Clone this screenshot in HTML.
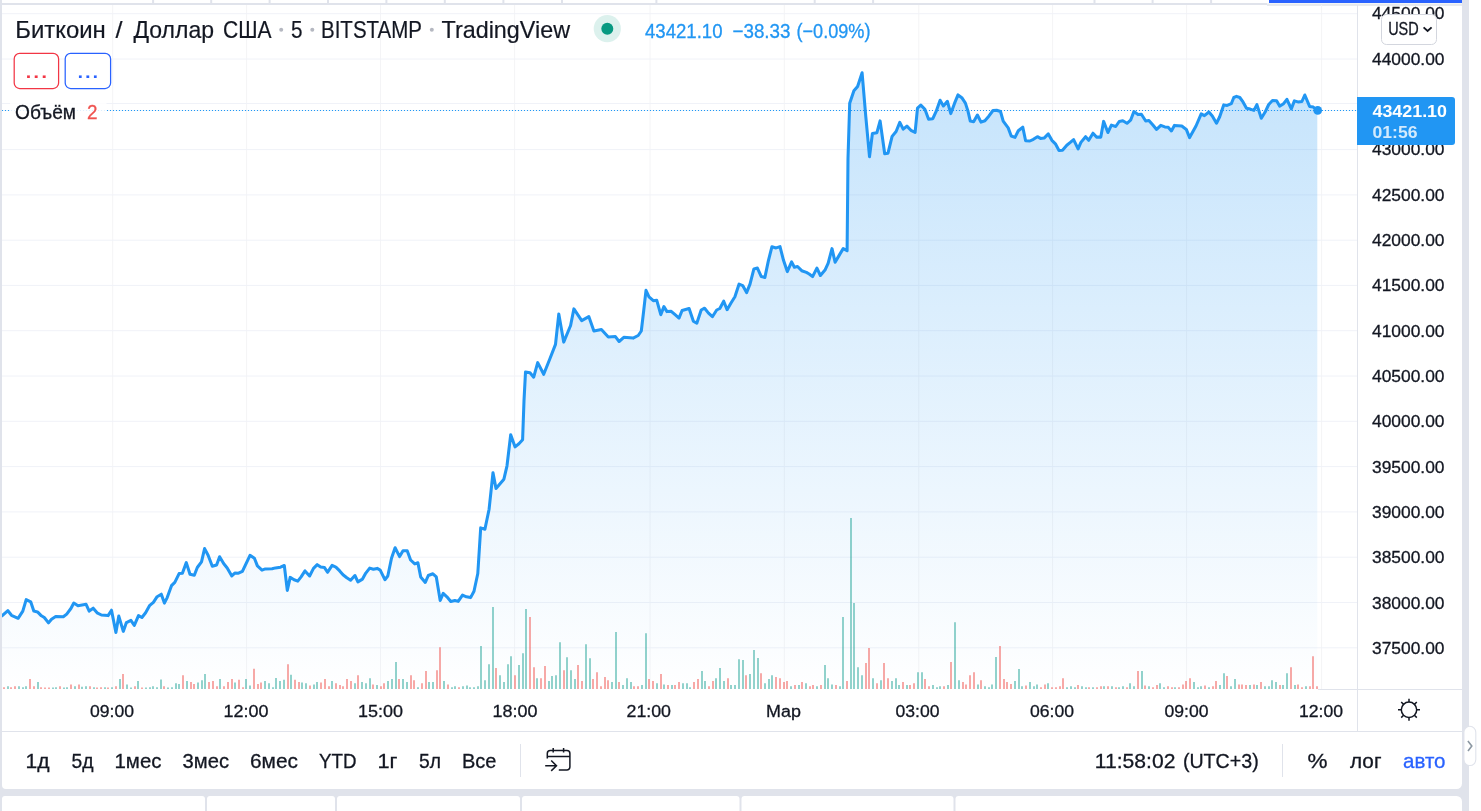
<!DOCTYPE html>
<html lang="ru"><head><meta charset="utf-8"><title>BTCUSD</title>
<style>html,body{margin:0;padding:0;background:#fff;overflow:hidden}body{width:1481px;height:811px;position:relative;font-family:"Liberation Sans", sans-serif}svg{position:absolute;left:0;top:0;display:block}text{font-family:"Liberation Sans", sans-serif}</style>
</head><body>
<svg width="1481" height="811" viewBox="0 0 1481 811" style="will-change:transform">
<defs><linearGradient id="ag" x1="0" y1="5" x2="0" y2="689" gradientUnits="userSpaceOnUse"><stop offset="0" stop-color="#2196f3" stop-opacity="0.29"/><stop offset="1" stop-color="#2196f3" stop-opacity="0.002"/></linearGradient>
<clipPath id="pane"><rect x="2" y="5" width="1355" height="684"/></clipPath><clipPath id="axclip"><rect x="1358" y="5.9" width="104" height="684"/></clipPath></defs>
<rect x="0" y="0" width="1481" height="811" fill="#fff"/>
<rect x="0" y="0" width="1469" height="811" fill="#e0e3eb"/>
<rect x="2" y="0" width="1460" height="3" fill="#fff"/>
<rect x="152.1" y="0" width="2" height="3" fill="#e0e3eb"/>
<rect x="210.2" y="0" width="2" height="3" fill="#e0e3eb"/>
<rect x="268.6" y="0" width="2" height="3" fill="#e0e3eb"/>
<rect x="327" y="0" width="2" height="3" fill="#e0e3eb"/>
<rect x="385.4" y="0" width="2" height="3" fill="#e0e3eb"/>
<rect x="443.8" y="0" width="2" height="3" fill="#e0e3eb"/>
<rect x="502.4" y="0" width="2" height="3" fill="#e0e3eb"/>
<rect x="561" y="0" width="2" height="3" fill="#e0e3eb"/>
<rect x="655.4" y="0" width="2" height="3" fill="#e0e3eb"/>
<rect x="813.7" y="0" width="2" height="3" fill="#e0e3eb"/>
<rect x="872.1" y="0" width="2" height="3" fill="#e0e3eb"/>
<rect x="1093.5" y="0" width="2" height="3" fill="#e0e3eb"/>
<rect x="1151.6" y="0" width="2" height="3" fill="#e0e3eb"/>
<rect x="1210.1" y="0" width="2" height="3" fill="#e0e3eb"/>
<rect x="1269" y="0" width="193" height="3" fill="#2962ff"/>
<path d="M2 5H1462V783.5a5.5 5.5 0 0 1-5.5 5.5H6a4 4 0 0 1-4-4Z" fill="#fff"/>
<rect x="1267" y="3" width="195" height="2.2" fill="#fff"/>
<rect x="1267" y="3.5" width="195" height="2.4" fill="#e6e9ee"/>
<path d="M2 811V799a3 3 0 0 1 3-3H202a3 3 0 0 1 3 3V811Z" fill="#fff"/>
<path d="M207 811V799a3 3 0 0 1 3-3H332a3 3 0 0 1 3 3V811Z" fill="#fff"/>
<path d="M337 811V799a3 3 0 0 1 3-3H517a3 3 0 0 1 3 3V811Z" fill="#fff"/>
<path d="M522 811V799a3 3 0 0 1 3-3H736.5a3 3 0 0 1 3 3V811Z" fill="#fff"/>
<path d="M741.5 811V799a3 3 0 0 1 3-3H950.5a3 3 0 0 1 3 3V811Z" fill="#fff"/>
<path d="M955.5 811V799a3 3 0 0 1 3-3H1456.5a5.5 5.5 0 0 1 5.5 5.5V811Z" fill="#fff"/>
<g stroke-width="1"><g stroke="#f4f4f6">
<line x1="112.7" y1="5" x2="112.7" y2="689"/>
<line x1="246.6" y1="5" x2="246.6" y2="689"/>
<line x1="380.5" y1="5" x2="380.5" y2="689"/>
<line x1="514.6" y1="5" x2="514.6" y2="689"/>
<line x1="650.0" y1="5" x2="650.0" y2="689"/>
<line x1="784.3" y1="5" x2="784.3" y2="689"/>
<line x1="918.8" y1="5" x2="918.8" y2="689"/>
<line x1="1052.6" y1="5" x2="1052.6" y2="689"/>
<line x1="1186.6" y1="5" x2="1186.6" y2="689"/>
<line x1="1321.6" y1="5" x2="1321.6" y2="689"/>
</g><g stroke="#f0f2f8">
<line x1="2" y1="13.7" x2="1357" y2="13.7"/>
<line x1="2" y1="59.0" x2="1357" y2="59.0"/>
<line x1="2" y1="103.45" x2="1357" y2="103.45"/>
<line x1="2" y1="149.6" x2="1357" y2="149.6"/>
<line x1="2" y1="194.9" x2="1357" y2="194.9"/>
<line x1="2" y1="240.2" x2="1357" y2="240.2"/>
<line x1="2" y1="285.4" x2="1357" y2="285.4"/>
<line x1="2" y1="330.7" x2="1357" y2="330.7"/>
<line x1="2" y1="376.0" x2="1357" y2="376.0"/>
<line x1="2" y1="421.3" x2="1357" y2="421.3"/>
<line x1="2" y1="466.6" x2="1357" y2="466.6"/>
<line x1="2" y1="511.9" x2="1357" y2="511.9"/>
<line x1="2" y1="557.2" x2="1357" y2="557.2"/>
<line x1="2" y1="602.5" x2="1357" y2="602.5"/>
<line x1="2" y1="647.8" x2="1357" y2="647.8"/>
</g></g>
<g clip-path="url(#pane)">
<path d="M2.0 615.8 L7.9 610.7 L11.5 615.3 L18.1 618.3 L22.8 611.1 L26.2 599.6 L30.7 601.8 L33.8 611.1 L37.5 611.9 L41.4 615.8 L44.3 617.5 L48.5 622.9 L51.5 619.2 L55.7 616.5 L63.3 616.8 L66.7 614.1 L70.9 608.5 L73.8 603.0 L78.0 605.7 L86.1 604.3 L89.2 611.1 L93.2 608.2 L97.1 612.8 L101.4 615.0 L108.1 615.6 L111.5 610.2 L115.9 632.5 L118.8 616.1 L123.3 631.4 L126.4 622.6 L130.9 620.4 L134.3 625.4 L138.5 615.6 L141.9 617.5 L145.6 612.8 L149.5 605.7 L153.4 602.3 L157.1 596.7 L161.3 594.2 L164.4 603.1 L167.2 597.6 L171.5 585.7 L174.8 582.4 L179.1 573.6 L182.4 573.2 L186.3 562.6 L190.0 574.3 L194.3 575.3 L197.3 567.5 L201.5 561.8 L204.6 548.6 L208.1 555.3 L212.3 566.3 L216.6 565.0 L219.6 556.7 L223.8 563.8 L227.2 568.0 L231.8 575.9 L234.8 573.1 L238.5 573.2 L242.4 571.4 L250.0 555.3 L254.4 558.3 L257.4 565.9 L262.0 570.1 L265.3 568.9 L272.1 568.8 L275.5 567.9 L280.5 567.2 L284.3 565.5 L287.3 590.4 L290.2 577.4 L294.1 579.7 L297.8 581.1 L301.1 576.9 L305.0 570.9 L309.6 576.0 L313.5 568.4 L317.2 564.7 L320.7 567.1 L324.5 567.6 L327.5 572.3 L332.1 565.4 L335.9 567.1 L339.7 570.9 L343.0 574.7 L346.8 577.7 L350.6 580.2 L354.9 575.5 L357.9 581.9 L362.5 579.1 L365.8 573.1 L369.7 568.1 L373.4 569.3 L377.2 568.4 L380.2 570.1 L384.9 579.7 L387.8 576.0 L391.5 558.3 L395.1 547.8 L399.6 556.6 L403.0 550.7 L407.2 550.7 L410.6 560.0 L414.8 563.9 L417.9 562.8 L420.7 576.9 L425.3 582.4 L428.3 575.5 L432.9 573.8 L436.3 576.9 L440.2 600.5 L443.2 593.4 L446.9 596.8 L450.8 601.4 L454.9 600.5 L458.2 601.4 L462.5 595.1 L466.4 596.8 L470.6 597.6 L474.0 591.2 L477.8 573.5 L480.7 527.9 L484.9 529.2 L489.1 509.2 L493.0 472.7 L496.0 488.5 L503.9 479.2 L507.0 465.8 L510.7 434.7 L515.1 446.9 L518.9 443.8 L522.6 439.8 L524.0 400.9 L525.5 372.1 L530.0 372.8 L533.7 377.2 L537.7 362.6 L543.7 374.3 L549.9 358.8 L555.5 344.4 L558.8 314.0 L563.7 342.1 L570.6 325.5 L573.9 308.9 L581.7 320.6 L588.8 316.6 L593.9 331.0 L601.4 329.5 L608.3 337.0 L615.4 336.6 L619.1 341.5 L623.8 337.3 L633.1 338.1 L638.2 335.5 L641.3 331.0 L643.7 310.8 L646.0 290.3 L649.0 296.8 L653.3 300.7 L656.7 300.2 L660.8 314.7 L663.9 306.6 L667.0 311.6 L671.2 311.3 L675.1 314.7 L679.0 318.1 L682.1 310.5 L689.1 308.5 L693.4 321.2 L696.8 323.2 L701.2 310.0 L704.6 308.2 L708.5 313.1 L712.4 316.7 L716.7 310.0 L719.8 308.5 L723.7 301.2 L727.1 309.7 L731.0 303.0 L734.9 296.8 L739.1 284.1 L742.7 285.6 L746.6 292.6 L750.0 284.1 L753.9 268.9 L757.4 268.1 L761.3 276.6 L764.9 277.4 L768.3 261.1 L771.9 246.8 L776.1 247.9 L780.0 246.6 L783.5 260.3 L787.3 271.6 L791.6 261.9 L794.4 267.3 L797.5 266.5 L801.7 270.7 L806.4 272.4 L809.2 274.0 L812.6 276.6 L816.9 268.1 L820.4 275.5 L825.0 270.1 L828.1 263.4 L832.0 248.6 L835.1 262.2 L839.0 255.6 L843.2 248.6 L847.1 250.7 L848.0 158.6 L849.7 103.2 L853.9 90.8 L857.6 86.4 L862.1 72.8 L865.8 116.7 L869.5 156.7 L872.4 133.5 L876.9 132.7 L880.1 120.9 L884.7 153.7 L888.0 153.2 L892.1 136.4 L896.1 131.5 L899.8 122.4 L903.2 129.1 L906.9 126.1 L910.9 130.3 L915.1 132.3 L917.5 108.1 L920.8 105.1 L924.9 109.3 L928.6 119.2 L932.8 118.7 L936.5 110.6 L940.1 100.3 L943.4 106.0 L947.4 101.3 L950.8 113.6 L954.5 103.4 L958.0 94.9 L961.8 97.7 L965.4 103.1 L967.9 110.9 L970.3 121.1 L973.6 121.8 L977.4 115.0 L981.0 122.1 L984.9 120.7 L988.8 116.2 L993.0 110.5 L996.6 110.2 L1000.5 111.5 L1003.2 121.1 L1008.2 127.9 L1011.2 136.0 L1015.0 137.4 L1018.3 130.8 L1022.8 127.2 L1025.6 140.7 L1029.9 141.0 L1033.4 139.3 L1037.4 136.7 L1040.5 138.4 L1044.1 138.1 L1048.3 133.9 L1051.9 140.3 L1055.4 143.8 L1059.0 150.5 L1062.5 150.2 L1066.8 145.2 L1070.3 142.4 L1073.6 139.6 L1078.1 148.8 L1080.9 142.4 L1085.6 136.7 L1088.7 140.3 L1093.0 133.2 L1096.5 137.1 L1100.8 137.1 L1103.6 121.4 L1107.9 132.5 L1111.4 125.1 L1115.7 126.5 L1119.2 121.5 L1122.8 120.8 L1127.0 123.3 L1130.6 120.2 L1133.9 111.6 L1138.0 114.6 L1141.4 114.3 L1145.7 121.0 L1148.9 120.5 L1152.9 125.0 L1156.6 129.4 L1160.8 125.4 L1164.8 126.9 L1168.2 127.2 L1171.4 130.9 L1174.4 125.4 L1181.8 126.1 L1186.3 129.4 L1189.6 137.6 L1196.0 126.0 L1201.2 113.8 L1204.4 115.6 L1208.9 112.0 L1212.3 116.0 L1216.5 123.2 L1219.7 116.8 L1223.7 104.9 L1227.2 105.4 L1231.3 103.7 L1233.8 97.5 L1236.5 96.4 L1239.8 97.5 L1243.0 101.9 L1246.5 108.3 L1250.2 109.1 L1253.9 110.4 L1256.9 104.6 L1261.3 118.3 L1265.0 112.3 L1268.7 104.5 L1272.5 100.5 L1276.6 100.7 L1279.6 106.1 L1283.6 103.7 L1286.9 99.3 L1291.3 108.9 L1294.4 100.9 L1298.0 101.9 L1301.9 101.5 L1304.8 95.0 L1309.6 106.4 L1313.3 107.1 L1317.3 110.4 L1317.3 689 L2.0 689Z" fill="url(#ag)"/>
<path d="M7 689v-2.8h2v2.8zM18 689v-2.8h2v2.8zM22 689v-1.8h2v1.8zM25 689v-2.8h2v2.8zM37 689v-6.9h2v6.9zM52 689v-1.6h2v1.6zM55 689v-1.8h2v1.8zM63 689v-1.6h2v1.6zM66 689v-1.8h2v1.8zM74 689v-2.8h2v2.8zM81 689v-2.3h2v2.3zM85 689v-2.8h2v2.8zM93 689v-1.8h2v1.8zM104 689v-1.8h2v1.8zM111 689v-1.8h2v1.8zM119 689v-9.9h2v9.9zM126 689v-4.6h2v4.6zM130 689v-1.6h2v1.6zM137 689v-8.0h2v8.0zM145 689v-1.6h2v1.6zM149 689v-1.8h2v1.8zM152 689v-2.8h2v2.8zM156 689v-1.8h2v1.8zM160 689v-9.6h2v9.6zM167 689v-1.6h2v1.6zM171 689v-1.8h2v1.8zM175 689v-5.7h2v5.7zM178 689v-5.1h2v5.1zM186 689v-8.0h2v8.0zM197 689v-6.4h2v6.4zM201 689v-8.7h2v8.7zM204 689v-14.9h2v14.9zM219 689v-9.9h2v9.9zM234 689v-6.4h2v6.4zM245 689v-9.9h2v9.9zM249 689v-3.4h2v3.4zM264 689v-8.0h2v8.0zM268 689v-5.7h2v5.7zM272 689v-1.8h2v1.8zM275 689v-11.0h2v11.0zM279 689v-8.0h2v8.0zM283 689v-9.2h2v9.2zM290 689v-14.2h2v14.2zM301 689v-6.4h2v6.4zM305 689v-5.7h2v5.7zM313 689v-4.6h2v4.6zM316 689v-6.9h2v6.9zM331 689v-8.0h2v8.0zM354 689v-5.7h2v5.7zM361 689v-6.9h2v6.9zM365 689v-5.7h2v5.7zM369 689v-10.8h2v10.8zM376 689v-3.9h2v3.9zM387 689v-8.0h2v8.0zM391 689v-9.9h2v9.9zM395 689v-27.1h2v27.1zM402 689v-9.9h2v9.9zM406 689v-6.9h2v6.9zM417 689v-1.8h2v1.8zM428 689v-6.9h2v6.9zM432 689v-6.9h2v6.9zM443 689v-8.0h2v8.0zM451 689v-1.8h2v1.8zM454 689v-2.8h2v2.8zM462 689v-2.8h2v2.8zM466 689v-3.4h2v3.4zM469 689v-1.8h2v1.8zM473 689v-1.8h2v1.8zM477 689v-2.8h2v2.8zM480 689v-42.9h2v42.9zM484 689v-8.7h2v8.7zM488 689v-24.8h2v24.8zM492 689v-82.0h2v82.0zM499 689v-13.8h2v13.8zM503 689v-6.9h2v6.9zM507 689v-24.8h2v24.8zM510 689v-32.8h2v32.8zM518 689v-23.9h2v23.9zM522 689v-35.8h2v35.8zM525 689v-79.9h2v79.9zM536 689v-10.8h2v10.8zM548 689v-8.0h2v8.0zM551 689v-12.9h2v12.9zM555 689v-13.8h2v13.8zM559 689v-46.8h2v46.8zM566 689v-31.7h2v31.7zM570 689v-18.8h2v18.8zM574 689v-9.9h2v9.9zM585 689v-44.8h2v44.8zM589 689v-30.8h2v30.8zM611 689v-6.9h2v6.9zM615 689v-56.9h2v56.9zM622 689v-3.9h2v3.9zM626 689v-10.8h2v10.8zM630 689v-6.9h2v6.9zM641 689v-3.9h2v3.9zM645 689v-55.8h2v55.8zM656 689v-5.7h2v5.7zM663 689v-4.6h2v4.6zM671 689v-3.9h2v3.9zM682 689v-5.7h2v5.7zM686 689v-5.7h2v5.7zM689 689v-1.8h2v1.8zM701 689v-17.9h2v17.9zM704 689v-8.0h2v8.0zM715 689v-10.8h2v10.8zM719 689v-20.9h2v20.9zM723 689v-8.0h2v8.0zM730 689v-3.9h2v3.9zM734 689v-3.9h2v3.9zM738 689v-29.8h2v29.8zM742 689v-28.9h2v28.9zM749 689v-14.9h2v14.9zM753 689v-39.0h2v39.0zM757 689v-31.0h2v31.0zM764 689v-5.7h2v5.7zM768 689v-9.9h2v9.9zM771 689v-13.8h2v13.8zM790 689v-2.8h2v2.8zM798 689v-3.9h2v3.9zM805 689v-5.7h2v5.7zM816 689v-2.8h2v2.8zM824 689v-23.9h2v23.9zM827 689v-10.8h2v10.8zM831 689v-4.6h2v4.6zM839 689v-2.8h2v2.8zM842 689v-71.9h2v71.9zM850 689v-171.0h2v171.0zM853 689v-85.9h2v85.9zM857 689v-21.8h2v21.8zM861 689v-13.8h2v13.8zM872 689v-10.8h2v10.8zM880 689v-8.7h2v8.7zM891 689v-8.0h2v8.0zM895 689v-10.8h2v10.8zM898 689v-3.9h2v3.9zM906 689v-3.9h2v3.9zM917 689v-16.8h2v16.8zM921 689v-16.8h2v16.8zM932 689v-3.9h2v3.9zM936 689v-1.8h2v1.8zM939 689v-2.8h2v2.8zM947 689v-3.9h2v3.9zM954 689v-66.8h2v66.8zM958 689v-8.7h2v8.7zM977 689v-4.6h2v4.6zM984 689v-2.8h2v2.8zM988 689v-1.8h2v1.8zM991 689v-4.6h2v4.6zM995 689v-31.9h2v31.9zM1014 689v-8.0h2v8.0zM1018 689v-20.0h2v20.0zM1021 689v-2.8h2v2.8zM1029 689v-6.9h2v6.9zM1033 689v-2.8h2v2.8zM1036 689v-4.6h2v4.6zM1047 689v-5.7h2v5.7zM1066 689v-1.8h2v1.8zM1070 689v-2.8h2v2.8zM1074 689v-1.8h2v1.8zM1081 689v-2.8h2v2.8zM1085 689v-1.8h2v1.8zM1092 689v-1.8h2v1.8zM1103 689v-2.8h2v2.8zM1111 689v-2.8h2v2.8zM1118 689v-1.8h2v1.8zM1122 689v-2.8h2v2.8zM1129 689v-5.7h2v5.7zM1133 689v-2.8h2v2.8zM1141 689v-17.9h2v17.9zM1148 689v-2.8h2v2.8zM1159 689v-5.7h2v5.7zM1163 689v-1.8h2v1.8zM1174 689v-1.8h2v1.8zM1193 689v-6.9h2v6.9zM1197 689v-1.8h2v1.8zM1200 689v-2.8h2v2.8zM1208 689v-1.8h2v1.8zM1219 689v-3.9h2v3.9zM1223 689v-15.8h2v15.8zM1230 689v-2.8h2v2.8zM1234 689v-9.9h2v9.9zM1249 689v-3.9h2v3.9zM1256 689v-3.9h2v3.9zM1264 689v-2.8h2v2.8zM1268 689v-2.8h2v2.8zM1271 689v-8.7h2v8.7zM1275 689v-6.9h2v6.9zM1282 689v-3.9h2v3.9zM1286 689v-15.8h2v15.8zM1294 689v-3.9h2v3.9zM1305 689v-2.8h2v2.8z" fill="#26a69a" fill-opacity="0.5"/>
<path d="M3 689v-1.8h2v1.8zM10 689v-1.8h2v1.8zM14 689v-2.8h2v2.8zM29 689v-9.9h2v9.9zM33 689v-2.8h2v2.8zM40 689v-1.8h2v1.8zM44 689v-1.6h2v1.6zM48 689v-1.6h2v1.6zM59 689v-2.8h2v2.8zM70 689v-4.6h2v4.6zM78 689v-4.6h2v4.6zM89 689v-2.8h2v2.8zM96 689v-1.6h2v1.6zM100 689v-1.8h2v1.8zM107 689v-1.6h2v1.6zM115 689v-2.8h2v2.8zM122 689v-14.9h2v14.9zM134 689v-2.8h2v2.8zM141 689v-1.6h2v1.6zM163 689v-2.8h2v2.8zM182 689v-13.8h2v13.8zM190 689v-6.9h2v6.9zM193 689v-5.1h2v5.1zM208 689v-6.9h2v6.9zM212 689v-8.0h2v8.0zM216 689v-2.8h2v2.8zM223 689v-2.8h2v2.8zM227 689v-6.9h2v6.9zM231 689v-9.9h2v9.9zM238 689v-9.2h2v9.2zM242 689v-1.8h2v1.8zM253 689v-20.2h2v20.2zM257 689v-5.1h2v5.1zM260 689v-6.4h2v6.4zM287 689v-24.8h2v24.8zM294 689v-9.2h2v9.2zM298 689v-6.9h2v6.9zM309 689v-3.4h2v3.4zM320 689v-6.4h2v6.4zM324 689v-9.9h2v9.9zM328 689v-2.8h2v2.8zM335 689v-5.7h2v5.7zM339 689v-3.9h2v3.9zM342 689v-2.8h2v2.8zM346 689v-9.9h2v9.9zM350 689v-8.0h2v8.0zM357 689v-13.8h2v13.8zM372 689v-4.6h2v4.6zM380 689v-2.8h2v2.8zM383 689v-5.7h2v5.7zM398 689v-9.9h2v9.9zM410 689v-13.8h2v13.8zM413 689v-8.7h2v8.7zM421 689v-5.7h2v5.7zM425 689v-17.9h2v17.9zM436 689v-18.8h2v18.8zM439 689v-41.8h2v41.8zM447 689v-4.6h2v4.6zM458 689v-1.8h2v1.8zM495 689v-21.1h2v21.1zM514 689v-13.8h2v13.8zM529 689v-71.9h2v71.9zM533 689v-21.8h2v21.8zM540 689v-10.8h2v10.8zM544 689v-23.0h2v23.0zM563 689v-18.8h2v18.8zM577 689v-23.9h2v23.9zM581 689v-8.0h2v8.0zM592 689v-9.9h2v9.9zM596 689v-16.8h2v16.8zM600 689v-2.8h2v2.8zM604 689v-11.9h2v11.9zM607 689v-8.7h2v8.7zM618 689v-6.9h2v6.9zM633 689v-2.8h2v2.8zM637 689v-2.8h2v2.8zM648 689v-9.9h2v9.9zM652 689v-8.0h2v8.0zM660 689v-14.9h2v14.9zM667 689v-3.9h2v3.9zM674 689v-3.9h2v3.9zM678 689v-6.9h2v6.9zM693 689v-6.9h2v6.9zM697 689v-9.9h2v9.9zM708 689v-2.8h2v2.8zM712 689v-8.0h2v8.0zM727 689v-10.8h2v10.8zM745 689v-13.8h2v13.8zM760 689v-15.8h2v15.8zM775 689v-11.9h2v11.9zM779 689v-10.8h2v10.8zM783 689v-6.9h2v6.9zM786 689v-8.0h2v8.0zM794 689v-3.9h2v3.9zM801 689v-6.9h2v6.9zM809 689v-2.8h2v2.8zM812 689v-3.9h2v3.9zM820 689v-3.9h2v3.9zM835 689v-3.9h2v3.9zM846 689v-8.0h2v8.0zM865 689v-25.9h2v25.9zM868 689v-40.9h2v40.9zM876 689v-5.7h2v5.7zM883 689v-25.9h2v25.9zM887 689v-10.8h2v10.8zM902 689v-6.9h2v6.9zM909 689v-3.9h2v3.9zM913 689v-5.7h2v5.7zM924 689v-9.9h2v9.9zM928 689v-2.8h2v2.8zM943 689v-2.8h2v2.8zM950 689v-26.9h2v26.9zM962 689v-6.9h2v6.9zM965 689v-4.6h2v4.6zM969 689v-13.8h2v13.8zM973 689v-16.8h2v16.8zM980 689v-8.7h2v8.7zM999 689v-42.9h2v42.9zM1003 689v-9.9h2v9.9zM1006 689v-6.9h2v6.9zM1010 689v-5.1h2v5.1zM1025 689v-3.4h2v3.4zM1040 689v-1.8h2v1.8zM1044 689v-4.6h2v4.6zM1051 689v-1.8h2v1.8zM1055 689v-1.8h2v1.8zM1059 689v-2.8h2v2.8zM1062 689v-10.8h2v10.8zM1077 689v-3.9h2v3.9zM1088 689v-1.8h2v1.8zM1096 689v-1.8h2v1.8zM1100 689v-2.8h2v2.8zM1107 689v-2.8h2v2.8zM1115 689v-1.8h2v1.8zM1126 689v-1.8h2v1.8zM1137 689v-17.9h2v17.9zM1144 689v-3.4h2v3.4zM1152 689v-1.8h2v1.8zM1156 689v-3.9h2v3.9zM1167 689v-2.8h2v2.8zM1171 689v-1.8h2v1.8zM1178 689v-1.8h2v1.8zM1182 689v-4.6h2v4.6zM1185 689v-8.0h2v8.0zM1189 689v-10.8h2v10.8zM1204 689v-3.4h2v3.4zM1212 689v-2.8h2v2.8zM1215 689v-8.0h2v8.0zM1226 689v-12.9h2v12.9zM1238 689v-4.6h2v4.6zM1241 689v-4.6h2v4.6zM1245 689v-3.9h2v3.9zM1253 689v-4.6h2v4.6zM1260 689v-6.9h2v6.9zM1279 689v-3.9h2v3.9zM1290 689v-21.8h2v21.8zM1297 689v-4.6h2v4.6zM1301 689v-1.8h2v1.8zM1309 689v-2.8h2v2.8zM1312 689v-32.8h2v32.8zM1316 689v-2.8h2v2.8z" fill="#ef5350" fill-opacity="0.5"/>
<path d="M2.0 615.8 L7.9 610.7 L11.5 615.3 L18.1 618.3 L22.8 611.1 L26.2 599.6 L30.7 601.8 L33.8 611.1 L37.5 611.9 L41.4 615.8 L44.3 617.5 L48.5 622.9 L51.5 619.2 L55.7 616.5 L63.3 616.8 L66.7 614.1 L70.9 608.5 L73.8 603.0 L78.0 605.7 L86.1 604.3 L89.2 611.1 L93.2 608.2 L97.1 612.8 L101.4 615.0 L108.1 615.6 L111.5 610.2 L115.9 632.5 L118.8 616.1 L123.3 631.4 L126.4 622.6 L130.9 620.4 L134.3 625.4 L138.5 615.6 L141.9 617.5 L145.6 612.8 L149.5 605.7 L153.4 602.3 L157.1 596.7 L161.3 594.2 L164.4 603.1 L167.2 597.6 L171.5 585.7 L174.8 582.4 L179.1 573.6 L182.4 573.2 L186.3 562.6 L190.0 574.3 L194.3 575.3 L197.3 567.5 L201.5 561.8 L204.6 548.6 L208.1 555.3 L212.3 566.3 L216.6 565.0 L219.6 556.7 L223.8 563.8 L227.2 568.0 L231.8 575.9 L234.8 573.1 L238.5 573.2 L242.4 571.4 L250.0 555.3 L254.4 558.3 L257.4 565.9 L262.0 570.1 L265.3 568.9 L272.1 568.8 L275.5 567.9 L280.5 567.2 L284.3 565.5 L287.3 590.4 L290.2 577.4 L294.1 579.7 L297.8 581.1 L301.1 576.9 L305.0 570.9 L309.6 576.0 L313.5 568.4 L317.2 564.7 L320.7 567.1 L324.5 567.6 L327.5 572.3 L332.1 565.4 L335.9 567.1 L339.7 570.9 L343.0 574.7 L346.8 577.7 L350.6 580.2 L354.9 575.5 L357.9 581.9 L362.5 579.1 L365.8 573.1 L369.7 568.1 L373.4 569.3 L377.2 568.4 L380.2 570.1 L384.9 579.7 L387.8 576.0 L391.5 558.3 L395.1 547.8 L399.6 556.6 L403.0 550.7 L407.2 550.7 L410.6 560.0 L414.8 563.9 L417.9 562.8 L420.7 576.9 L425.3 582.4 L428.3 575.5 L432.9 573.8 L436.3 576.9 L440.2 600.5 L443.2 593.4 L446.9 596.8 L450.8 601.4 L454.9 600.5 L458.2 601.4 L462.5 595.1 L466.4 596.8 L470.6 597.6 L474.0 591.2 L477.8 573.5 L480.7 527.9 L484.9 529.2 L489.1 509.2 L493.0 472.7 L496.0 488.5 L503.9 479.2 L507.0 465.8 L510.7 434.7 L515.1 446.9 L518.9 443.8 L522.6 439.8 L524.0 400.9 L525.5 372.1 L530.0 372.8 L533.7 377.2 L537.7 362.6 L543.7 374.3 L549.9 358.8 L555.5 344.4 L558.8 314.0 L563.7 342.1 L570.6 325.5 L573.9 308.9 L581.7 320.6 L588.8 316.6 L593.9 331.0 L601.4 329.5 L608.3 337.0 L615.4 336.6 L619.1 341.5 L623.8 337.3 L633.1 338.1 L638.2 335.5 L641.3 331.0 L643.7 310.8 L646.0 290.3 L649.0 296.8 L653.3 300.7 L656.7 300.2 L660.8 314.7 L663.9 306.6 L667.0 311.6 L671.2 311.3 L675.1 314.7 L679.0 318.1 L682.1 310.5 L689.1 308.5 L693.4 321.2 L696.8 323.2 L701.2 310.0 L704.6 308.2 L708.5 313.1 L712.4 316.7 L716.7 310.0 L719.8 308.5 L723.7 301.2 L727.1 309.7 L731.0 303.0 L734.9 296.8 L739.1 284.1 L742.7 285.6 L746.6 292.6 L750.0 284.1 L753.9 268.9 L757.4 268.1 L761.3 276.6 L764.9 277.4 L768.3 261.1 L771.9 246.8 L776.1 247.9 L780.0 246.6 L783.5 260.3 L787.3 271.6 L791.6 261.9 L794.4 267.3 L797.5 266.5 L801.7 270.7 L806.4 272.4 L809.2 274.0 L812.6 276.6 L816.9 268.1 L820.4 275.5 L825.0 270.1 L828.1 263.4 L832.0 248.6 L835.1 262.2 L839.0 255.6 L843.2 248.6 L847.1 250.7 L848.0 158.6 L849.7 103.2 L853.9 90.8 L857.6 86.4 L862.1 72.8 L865.8 116.7 L869.5 156.7 L872.4 133.5 L876.9 132.7 L880.1 120.9 L884.7 153.7 L888.0 153.2 L892.1 136.4 L896.1 131.5 L899.8 122.4 L903.2 129.1 L906.9 126.1 L910.9 130.3 L915.1 132.3 L917.5 108.1 L920.8 105.1 L924.9 109.3 L928.6 119.2 L932.8 118.7 L936.5 110.6 L940.1 100.3 L943.4 106.0 L947.4 101.3 L950.8 113.6 L954.5 103.4 L958.0 94.9 L961.8 97.7 L965.4 103.1 L967.9 110.9 L970.3 121.1 L973.6 121.8 L977.4 115.0 L981.0 122.1 L984.9 120.7 L988.8 116.2 L993.0 110.5 L996.6 110.2 L1000.5 111.5 L1003.2 121.1 L1008.2 127.9 L1011.2 136.0 L1015.0 137.4 L1018.3 130.8 L1022.8 127.2 L1025.6 140.7 L1029.9 141.0 L1033.4 139.3 L1037.4 136.7 L1040.5 138.4 L1044.1 138.1 L1048.3 133.9 L1051.9 140.3 L1055.4 143.8 L1059.0 150.5 L1062.5 150.2 L1066.8 145.2 L1070.3 142.4 L1073.6 139.6 L1078.1 148.8 L1080.9 142.4 L1085.6 136.7 L1088.7 140.3 L1093.0 133.2 L1096.5 137.1 L1100.8 137.1 L1103.6 121.4 L1107.9 132.5 L1111.4 125.1 L1115.7 126.5 L1119.2 121.5 L1122.8 120.8 L1127.0 123.3 L1130.6 120.2 L1133.9 111.6 L1138.0 114.6 L1141.4 114.3 L1145.7 121.0 L1148.9 120.5 L1152.9 125.0 L1156.6 129.4 L1160.8 125.4 L1164.8 126.9 L1168.2 127.2 L1171.4 130.9 L1174.4 125.4 L1181.8 126.1 L1186.3 129.4 L1189.6 137.6 L1196.0 126.0 L1201.2 113.8 L1204.4 115.6 L1208.9 112.0 L1212.3 116.0 L1216.5 123.2 L1219.7 116.8 L1223.7 104.9 L1227.2 105.4 L1231.3 103.7 L1233.8 97.5 L1236.5 96.4 L1239.8 97.5 L1243.0 101.9 L1246.5 108.3 L1250.2 109.1 L1253.9 110.4 L1256.9 104.6 L1261.3 118.3 L1265.0 112.3 L1268.7 104.5 L1272.5 100.5 L1276.6 100.7 L1279.6 106.1 L1283.6 103.7 L1286.9 99.3 L1291.3 108.9 L1294.4 100.9 L1298.0 101.9 L1301.9 101.5 L1304.8 95.0 L1309.6 106.4 L1313.3 107.1 L1317.3 110.4" fill="none" stroke="#2196f3" stroke-width="3.05" stroke-linejoin="round" stroke-linecap="round"/>
</g>
<line x1="2" y1="110.5" x2="1357" y2="110.5" stroke="#2196f3" stroke-width="1" stroke-dasharray="1.2 1.8" stroke-dashoffset="0.1"/>
<circle cx="1317.7" cy="110.4" r="4.35" fill="#2196f3"/>
<g stroke="#e0e3eb" stroke-width="1" shape-rendering="crispEdges">
<line x1="1357.5" y1="5" x2="1357.5" y2="731"/>
<line x1="1318" y1="689.5" x2="1462" y2="689.5"/>
<line x1="2" y1="731.5" x2="1462" y2="731.5"/>
<line x1="520.5" y1="744" x2="520.5" y2="777"/>
<line x1="1282.5" y1="744" x2="1282.5" y2="777"/>
</g>
<text id="p0" x="1372.0" y="18.6" font-size="17.3" fill="#131722" stroke="#131722" stroke-width="0.3" clip-path="url(#axclip)" textLength="72.5" lengthAdjust="spacingAndGlyphs">44500.00</text>
<text id="p1" x="1372.0" y="64.5" font-size="17.3" fill="#131722" stroke="#131722" stroke-width="0.3" textLength="72.5" lengthAdjust="spacingAndGlyphs">44000.00</text>
<text id="p2" x="1372.0" y="109.8" font-size="17.3" fill="#131722" stroke="#131722" stroke-width="0.3" textLength="72.5" lengthAdjust="spacingAndGlyphs">43500.00</text>
<text id="p3" x="1372.0" y="155.2" font-size="17.3" fill="#131722" stroke="#131722" stroke-width="0.3" textLength="72.5" lengthAdjust="spacingAndGlyphs">43000.00</text>
<text id="p4" x="1372.0" y="200.5" font-size="17.3" fill="#131722" stroke="#131722" stroke-width="0.3" textLength="72.5" lengthAdjust="spacingAndGlyphs">42500.00</text>
<text id="p5" x="1372.0" y="245.9" font-size="17.3" fill="#131722" stroke="#131722" stroke-width="0.3" textLength="72.5" lengthAdjust="spacingAndGlyphs">42000.00</text>
<text id="p6" x="1372.0" y="291.2" font-size="17.3" fill="#131722" stroke="#131722" stroke-width="0.3" textLength="72.5" lengthAdjust="spacingAndGlyphs">41500.00</text>
<text id="p7" x="1372.0" y="336.6" font-size="17.3" fill="#131722" stroke="#131722" stroke-width="0.3" textLength="72.5" lengthAdjust="spacingAndGlyphs">41000.00</text>
<text id="p8" x="1372.0" y="381.9" font-size="17.3" fill="#131722" stroke="#131722" stroke-width="0.3" textLength="72.5" lengthAdjust="spacingAndGlyphs">40500.00</text>
<text id="p9" x="1372.0" y="427.2" font-size="17.3" fill="#131722" stroke="#131722" stroke-width="0.3" textLength="72.5" lengthAdjust="spacingAndGlyphs">40000.00</text>
<text id="p10" x="1372.0" y="472.6" font-size="17.3" fill="#131722" stroke="#131722" stroke-width="0.3" textLength="72.5" lengthAdjust="spacingAndGlyphs">39500.00</text>
<text id="p11" x="1372.0" y="518.0" font-size="17.3" fill="#131722" stroke="#131722" stroke-width="0.3" textLength="72.5" lengthAdjust="spacingAndGlyphs">39000.00</text>
<text id="p12" x="1372.0" y="563.3" font-size="17.3" fill="#131722" stroke="#131722" stroke-width="0.3" textLength="72.5" lengthAdjust="spacingAndGlyphs">38500.00</text>
<text id="p13" x="1372.0" y="608.7" font-size="17.3" fill="#131722" stroke="#131722" stroke-width="0.3" textLength="72.5" lengthAdjust="spacingAndGlyphs">38000.00</text>
<text id="p14" x="1372.0" y="654.0" font-size="17.3" fill="#131722" stroke="#131722" stroke-width="0.3" textLength="72.5" lengthAdjust="spacingAndGlyphs">37500.00</text>
<rect x="1381.5" y="14.5" width="55" height="30" rx="5" fill="#fff" stroke="#d3d6de"/>
<text id="usd" x="1388.2" y="34.7" font-size="17.6" fill="#131722" stroke="#131722" stroke-width="0.3" textLength="30.5" lengthAdjust="spacingAndGlyphs">USD</text>
<path d="M1423.6 27.4l4 3.5 4-3.5" fill="none" stroke="#131722" stroke-width="1.9"/>
<path d="M1357 97H1452a3 3 0 0 1 3 3V142a3 3 0 0 1-3 3H1357Z" fill="#2196f3"/>
<text id="plab" x="1372.5" y="117.2" font-size="17.3" fill="#fff" font-weight="bold" textLength="74.5" lengthAdjust="spacingAndGlyphs">43421.10</text>
<text id="ptime" x="1372.5" y="137.8" font-size="16.8" fill="#fff" font-weight="bold" fill-opacity="0.8" textLength="45.0" lengthAdjust="spacingAndGlyphs">01:56</text>
<text id="t1" x="15.2" y="38.0" font-size="23.8" fill="#131722" stroke="#131722" stroke-width="0.2" textLength="90.6" lengthAdjust="spacingAndGlyphs">Биткоин</text>
<text id="t2" x="115.5" y="38.0" font-size="23.8" fill="#131722" stroke="#131722" stroke-width="0.2" textLength="7.0" lengthAdjust="spacingAndGlyphs">/</text>
<text id="t3" x="133.5" y="38.0" font-size="23.8" fill="#131722" stroke="#131722" stroke-width="0.2" textLength="80.5" lengthAdjust="spacingAndGlyphs">Доллар</text>
<text id="t4" x="223.0" y="38.0" font-size="23.8" fill="#131722" stroke="#131722" stroke-width="0.2" textLength="48.5" lengthAdjust="spacingAndGlyphs">США</text>
<text id="t5" x="291.0" y="38.0" font-size="23.8" fill="#131722" stroke="#131722" stroke-width="0.2" textLength="11.5" lengthAdjust="spacingAndGlyphs">5</text>
<text id="t6" x="321.0" y="38.0" font-size="23.8" fill="#131722" stroke="#131722" stroke-width="0.2" textLength="101.0" lengthAdjust="spacingAndGlyphs">BITSTAMP</text>
<text id="t7" x="441.5" y="38.0" font-size="23.8" fill="#131722" stroke="#131722" stroke-width="0.2" textLength="128.5" lengthAdjust="spacingAndGlyphs">TradingView</text>
<circle cx="281.2" cy="29.8" r="2" fill="#b5b8c1"/>
<circle cx="312.3" cy="29.8" r="2" fill="#b5b8c1"/>
<circle cx="431.8" cy="29.8" r="2" fill="#b5b8c1"/>
<circle cx="607.3" cy="28.7" r="13.6" fill="#089981" fill-opacity="0.14"/>
<circle cx="607.3" cy="28.7" r="6" fill="#089981"/>
<text id="v1" x="645.0" y="37.7" font-size="20.3" fill="#2196f3" stroke="#2196f3" stroke-width="0.3" textLength="77.5" lengthAdjust="spacingAndGlyphs">43421.10</text>
<text id="v2" x="732.5" y="37.7" font-size="20.3" fill="#2196f3" stroke="#2196f3" stroke-width="0.3" textLength="58.0" lengthAdjust="spacingAndGlyphs">−38.33</text>
<text id="v3" x="796.5" y="37.7" font-size="20.3" fill="#2196f3" stroke="#2196f3" stroke-width="0.3" textLength="74.0" lengthAdjust="spacingAndGlyphs">(−0.09%)</text>
<rect x="14.2" y="53.4" width="44.4" height="35.1" rx="5.5" fill="#fff" stroke="#f23645" stroke-width="1.25"/>
<rect x="65.2" y="53.4" width="45.4" height="35.1" rx="5.5" fill="#fff" stroke="#2962ff" stroke-width="1.25"/>
<text id="b1" x="24.4" y="77.9" font-size="22" fill="#f23645" stroke="#f23645" stroke-width="0.1" textLength="23.7" lengthAdjust="spacingAndGlyphs">...</text>
<text id="b2" x="76.4" y="77.9" font-size="22" fill="#2962ff" stroke="#2962ff" stroke-width="0.1" textLength="22.7" lengthAdjust="spacingAndGlyphs">...</text>
<rect x="10" y="99" width="96.5" height="26" fill="#fff" fill-opacity="0.85"/>
<text id="l1" x="15.0" y="119.4" font-size="19.4" fill="#131722" stroke="#131722" stroke-width="0.3" textLength="61.0" lengthAdjust="spacingAndGlyphs">Объём</text>
<text id="l2" x="87.0" y="119.4" font-size="19.4" fill="#ef5350" stroke="#ef5350" stroke-width="0.3" textLength="10.5" lengthAdjust="spacingAndGlyphs">2</text>
<text id="x0" x="90.0" y="716.6" font-size="17.3" fill="#131722" stroke="#131722" stroke-width="0.3" textLength="44.0" lengthAdjust="spacingAndGlyphs">09:00</text>
<text id="x1" x="223.5" y="716.6" font-size="17.3" fill="#131722" stroke="#131722" stroke-width="0.3" textLength="45.0" lengthAdjust="spacingAndGlyphs">12:00</text>
<text id="x2" x="358.0" y="716.6" font-size="17.3" fill="#131722" stroke="#131722" stroke-width="0.3" textLength="45.0" lengthAdjust="spacingAndGlyphs">15:00</text>
<text id="x3" x="492.5" y="716.6" font-size="17.3" fill="#131722" stroke="#131722" stroke-width="0.3" textLength="45.0" lengthAdjust="spacingAndGlyphs">18:00</text>
<text id="x4" x="626.5" y="716.6" font-size="17.3" fill="#131722" stroke="#131722" stroke-width="0.3" textLength="44.5" lengthAdjust="spacingAndGlyphs">21:00</text>
<text id="x5" x="766.0" y="716.6" font-size="17.3" fill="#131722" stroke="#131722" stroke-width="0.3" textLength="35.0" lengthAdjust="spacingAndGlyphs">Мар</text>
<text id="x6" x="895.5" y="716.6" font-size="17.3" fill="#131722" stroke="#131722" stroke-width="0.3" textLength="44.0" lengthAdjust="spacingAndGlyphs">03:00</text>
<text id="x7" x="1030.0" y="716.6" font-size="17.3" fill="#131722" stroke="#131722" stroke-width="0.3" textLength="44.0" lengthAdjust="spacingAndGlyphs">06:00</text>
<text id="x8" x="1164.5" y="716.6" font-size="17.3" fill="#131722" stroke="#131722" stroke-width="0.3" textLength="44.0" lengthAdjust="spacingAndGlyphs">09:00</text>
<text id="x9" x="1299.0" y="716.6" font-size="17.3" fill="#131722" stroke="#131722" stroke-width="0.3" textLength="44.0" lengthAdjust="spacingAndGlyphs">12:00</text>
<text id="r1" x="25.5" y="768.0" font-size="20.6" fill="#131722" stroke="#131722" stroke-width="0.3" textLength="24.0" lengthAdjust="spacingAndGlyphs">1д</text>
<text id="r2" x="71.5" y="768.0" font-size="20.6" fill="#131722" stroke="#131722" stroke-width="0.3" textLength="22.0" lengthAdjust="spacingAndGlyphs">5д</text>
<text id="r3" x="114.5" y="768.0" font-size="20.6" fill="#131722" stroke="#131722" stroke-width="0.3" textLength="47.0" lengthAdjust="spacingAndGlyphs">1мес</text>
<text id="r4" x="182.5" y="768.0" font-size="20.6" fill="#131722" stroke="#131722" stroke-width="0.3" textLength="46.5" lengthAdjust="spacingAndGlyphs">3мес</text>
<text id="r5" x="250.0" y="768.0" font-size="20.6" fill="#131722" stroke="#131722" stroke-width="0.3" textLength="48.0" lengthAdjust="spacingAndGlyphs">6мес</text>
<text id="r6" x="319.0" y="768.0" font-size="20.6" fill="#131722" stroke="#131722" stroke-width="0.3" textLength="37.5" lengthAdjust="spacingAndGlyphs">YTD</text>
<text id="r7" x="377.5" y="768.0" font-size="20.6" fill="#131722" stroke="#131722" stroke-width="0.3" textLength="20.0" lengthAdjust="spacingAndGlyphs">1г</text>
<text id="r8" x="419.0" y="768.0" font-size="20.6" fill="#131722" stroke="#131722" stroke-width="0.3" textLength="22.0" lengthAdjust="spacingAndGlyphs">5л</text>
<text id="r9" x="462.0" y="768.0" font-size="20.6" fill="#131722" stroke="#131722" stroke-width="0.3" textLength="34.5" lengthAdjust="spacingAndGlyphs">Все</text>
<text id="clock" x="1094.8" y="767.7" font-size="21.0" fill="#131722" stroke="#131722" stroke-width="0.3" textLength="80.6" lengthAdjust="spacingAndGlyphs">11:58:02</text>
<text id="clock2" x="1182.9" y="767.7" font-size="21.0" fill="#131722" stroke="#131722" stroke-width="0.3" textLength="75.8" lengthAdjust="spacingAndGlyphs">(UTC+3)</text>
<text id="pct" x="1307.5" y="767.8" font-size="20.6" fill="#131722" stroke="#131722" stroke-width="0.3" textLength="20.0" lengthAdjust="spacingAndGlyphs">%</text>
<text id="log" x="1350.0" y="768.0" font-size="20.6" fill="#131722" stroke="#131722" stroke-width="0.3" textLength="31.5" lengthAdjust="spacingAndGlyphs">лог</text>
<text id="auto" x="1403.0" y="768.0" font-size="20.6" fill="#2962ff" stroke="#2962ff" stroke-width="0.3" textLength="42.5" lengthAdjust="spacingAndGlyphs">авто</text>
<g fill="none" stroke="#131722" stroke-width="1.5">
<path d="M547.3 758.4V753.4a3 3 0 0 1 3-3H566.9a3 3 0 0 1 3 3V767a3 3 0 0 1-3 3H558.8"/>
<path d="M547.3 756.5H569.9M553.2 748V752.6M563.6 748V752.6"/>
<path d="M545.2 765.7H556.2M551.2 760.5l5.3 5.2-5.3 5.2"/>
</g>
<g fill="none" stroke="#131722" stroke-width="1.5"><circle cx="1409" cy="709.8" r="7.7"/>
<path d="M1416.7 709.8L1420.0 709.8M1414.4 715.2L1416.8 717.6M1409.0 717.5L1409.0 720.8M1403.6 715.2L1401.2 717.6M1401.3 709.8L1398.0 709.8M1403.6 704.4L1401.2 702.0M1409.0 702.1L1409.0 698.8M1414.4 704.4L1416.8 702.0"/></g>
<rect x="1463.9" y="726.3" width="11.9" height="39.2" rx="5.9" fill="#fff" stroke="#e0e3eb" stroke-width="1.1"/>
<path d="M1467.9 741l3.9 5-3.8 5.1" fill="none" stroke="#8b97a2" stroke-width="1.6"/>
</svg>
</body></html>
